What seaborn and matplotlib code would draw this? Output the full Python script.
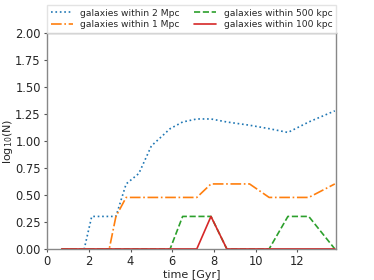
import numpy as np
import pandas as pd
import matplotlib
matplotlib.use('Agg')
import matplotlib.pyplot as plt
import seaborn as sns

sns.set_style('white')

# snapshot times [Gyr]
time = [0.7, 1.78, 2.14, 2.98, 3.3, 3.79, 4.4, 5.0, 5.9, 6.5, 7.18, 7.86,
        8.62, 9.71, 10.65, 11.55, 12.55, 13.8]

# log10 of number of galaxies within each radius
within_2mpc = [0, 0, 0.301, 0.301, 0.301, 0.602, 0.699, 0.954, 1.114, 1.176, 1.204, 1.204,
               1.176, 1.146, 1.114, 1.079, 1.176, 1.279]
within_1mpc = [0, 0, 0, 0, 0.301, 0.477, 0.477, 0.477, 0.477, 0.477, 0.477, 0.602,
               0.602, 0.602, 0.477, 0.477, 0.477, 0.602]
within_500kpc = [0, 0, 0, 0, 0, 0, 0, 0, 0, 0.301, 0.301, 0.301,
                 0, 0, 0, 0.301, 0.301, 0]
within_100kpc = [0, 0, 0, 0, 0, 0, 0, 0, 0, 0, 0, 0.301,
                 0, 0, 0, 0, 0, 0]

labels = ['galaxies within 2 Mpc', 'galaxies within 1 Mpc',
          'galaxies within 500 kpc', 'galaxies within 100 kpc']

fig = plt.figure(figsize=(3.74, 2.80), dpi=100)
ax = fig.add_axes([0.126, 0.111, 0.772, 0.771])

series = [within_2mpc, within_1mpc, within_500kpc, within_100kpc]
styles = [':', '-.', '--', '-']
colors = ['C0', 'C1', 'C2', 'C3']
for vals, lab, ls, c in zip(series, labels, styles, colors):
    sns.lineplot(x=time, y=vals, ax=ax, label=lab, color=c, linestyle=ls, lw=1.2)

ax.set_xlim(0, 13.85)
ax.set_ylim(0, 2.0)
ax.set_yticks(np.arange(0, 2.01, 0.25))
ax.set_xticks([0, 2, 4, 6, 8, 10, 12])
ax.tick_params(labelsize=8.3, length=2.5, width=0.8, left=True, bottom=True,
               color='#555555', pad=2)
ax.set_xlabel('time [Gyr]', fontsize=8, labelpad=1)
ax.set_ylabel('log$_{10}$(N)', fontsize=8, labelpad=0.5)
for s in ax.spines.values():
    s.set_color('#888888')
    s.set_linewidth(1.0)

ax.legend(bbox_to_anchor=(0, 1.0, 1, 0.12), loc='lower left', mode='expand', ncol=2,
          borderaxespad=0.0, fontsize=6.6, frameon=True, handlelength=2.4,
          labelspacing=0.3, borderpad=0.4, fancybox=False, edgecolor='#dddddd')

fig.savefig('out.png', dpi=100)
